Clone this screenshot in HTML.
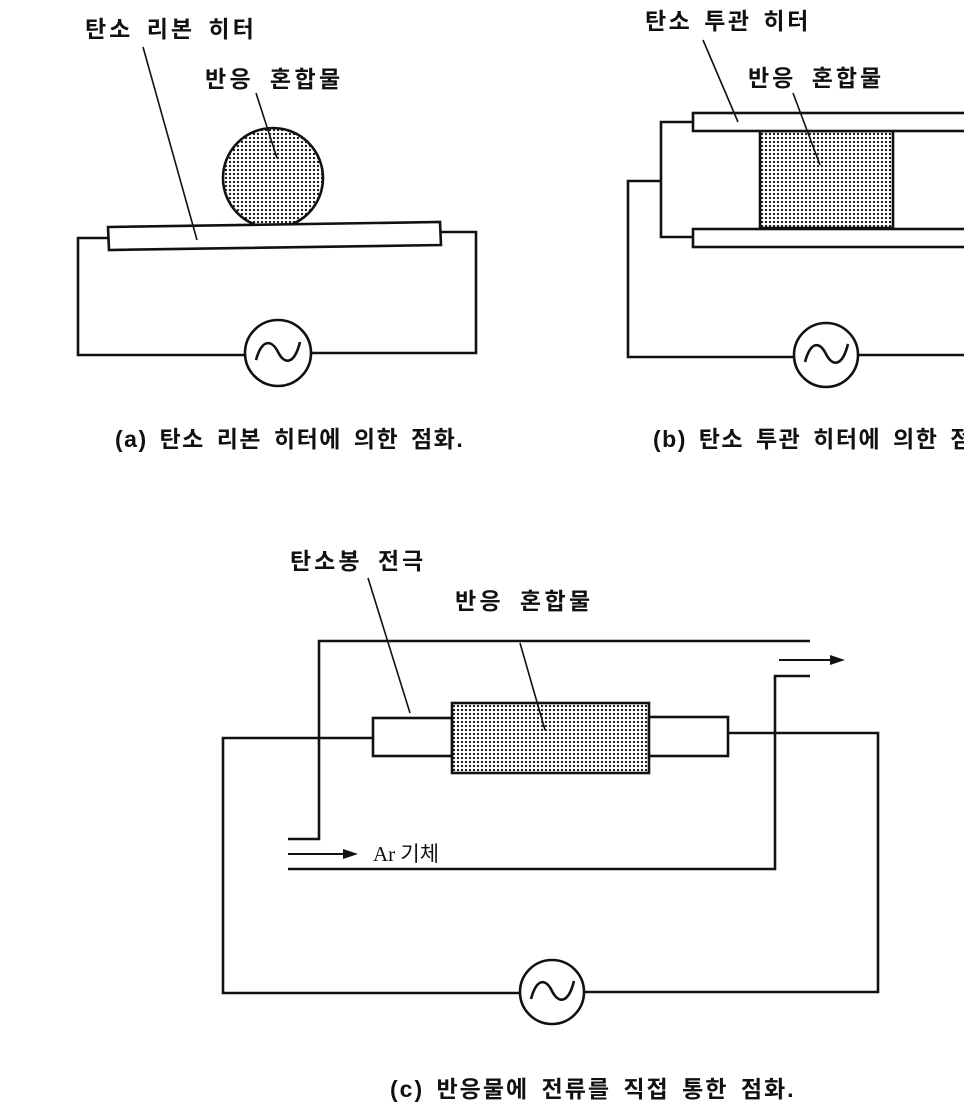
<!DOCTYPE html>
<html><head><meta charset="utf-8"><style>
html,body{margin:0;padding:0;background:#fff;}
svg{display:block;}
text{font-family:"Liberation Sans","Noto Sans CJK KR",sans-serif;font-weight:bold;fill:#111;}
</style></head><body>
<svg width="964" height="1110" viewBox="0 0 964 1110" xmlns="http://www.w3.org/2000/svg">
<defs>
<pattern id="dots" width="4" height="4" patternUnits="userSpaceOnUse">
<circle cx="2" cy="2" r="1.15" fill="#111"/>
</pattern>
</defs>
<g stroke="#111" stroke-width="2.6" fill="none" stroke-linejoin="miter">
<!-- (a) -->
<circle cx="273" cy="178" r="50" fill="url(#dots)"/>
<polygon points="108,227 440,222 441,245 109,250" fill="#fff"/>
<polyline points="108,238 78,238 78,355 245,355"/>
<polyline points="311,353 476,353 476,232 441,232"/>
<circle cx="278" cy="353" r="33" fill="#fff"/>
<path d="M256,360 C262,338 272,340 278,352 C284,364 294,366 300,342"/>
<line x1="143" y1="47" x2="197" y2="240" stroke-width="1.6"/>
<line x1="256" y1="93" x2="277" y2="158" stroke-width="1.6"/>
<!-- (b) -->
<rect x="760" y="131" width="133" height="97" fill="url(#dots)"/>
<rect x="693" y="113" width="280" height="18" fill="#fff"/>
<rect x="693" y="229" width="280" height="18" fill="#fff"/>
<polyline points="693,122 661,122 661,237 693,237"/>
<polyline points="661,181 628,181 628,357 794,357"/>
<line x1="858" y1="355" x2="964" y2="355"/>
<circle cx="826" cy="355" r="32" fill="#fff"/>
<path d="M805,362 C811,340 820,342 826,354 C832,366 842,368 848,344"/>
<line x1="703" y1="40" x2="738" y2="122" stroke-width="1.6"/>
<line x1="793" y1="93" x2="820" y2="165" stroke-width="1.6"/>
<!-- (c) -->
<polyline points="810,641 319,641 319,839 288,839"/>
<polyline points="288,869 775,869 775,676 810,676"/>
<line x1="288" y1="854" x2="345" y2="854" stroke-width="2"/>
<polygon points="358,854 343,849 343,859" fill="#111" stroke="none"/>
<line x1="779" y1="660" x2="832" y2="660" stroke-width="2"/>
<polygon points="845,660 830,655 830,665" fill="#111" stroke="none"/>
<rect x="373" y="718" width="79" height="38" fill="#fff"/>
<rect x="452" y="703" width="197" height="70" fill="url(#dots)"/>
<rect x="649" y="717" width="79" height="39" fill="#fff"/>
<polyline points="373,738 223,738 223,993 520,993"/>
<polyline points="584,992 878,992 878,733 728,733"/>
<circle cx="552" cy="992" r="32" fill="#fff"/>
<path d="M531,999 C537,977 546,979 552,991 C558,1003 568,1005 574,981"/>
<line x1="368" y1="578" x2="410" y2="713" stroke-width="1.6"/>
<line x1="520" y1="643" x2="545" y2="730" stroke-width="1.6"/>
</g>
<text x="85" y="37" font-size="23" letter-spacing="3" word-spacing="4">탄소 리본 히터</text>
<text x="205" y="87" font-size="23" letter-spacing="3.4" word-spacing="6">반응 혼합물</text>
<text x="115" y="447" font-size="23" letter-spacing="1.5" word-spacing="4">(a) 탄소 리본 히터에 의한 점화.</text>
<text x="645" y="29" font-size="23" letter-spacing="2.5" word-spacing="3">탄소 투관 히터</text>
<text x="748" y="86" font-size="23" letter-spacing="3" word-spacing="6">반응 혼합물</text>
<text x="653" y="447" font-size="23" letter-spacing="1.5" word-spacing="4">(b) 탄소 투관 히터에 의한 점화.</text>
<text x="290" y="569" font-size="23" letter-spacing="3" word-spacing="6">탄소봉 전극</text>
<text x="455" y="609" font-size="23" letter-spacing="3.4" word-spacing="6">반응 혼합물</text>
<text x="373" y="861" font-size="21" style="font-weight:normal;font-family:'Liberation Serif','Noto Sans CJK KR',serif">Ar 기체</text>
<text x="390" y="1097" font-size="23" letter-spacing="2" word-spacing="4">(c) 반응물에 전류를 직접 통한 점화.</text>
</svg>
</body></html>
